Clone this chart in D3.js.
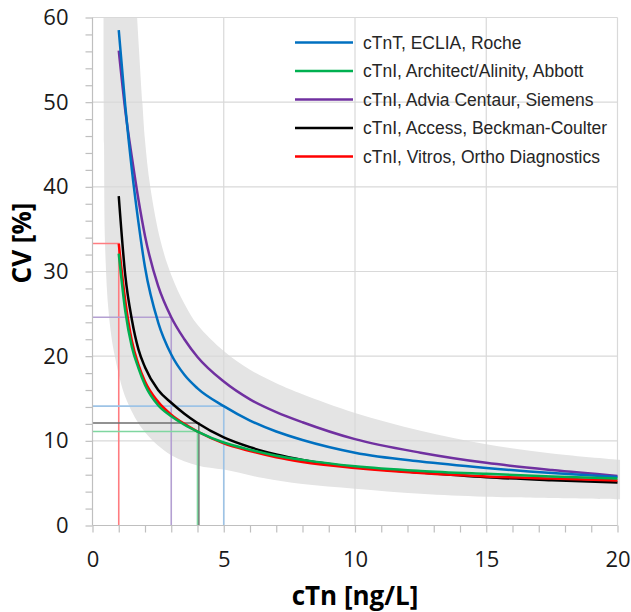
<!DOCTYPE html>
<html>
<head>
<meta charset="utf-8">
<script src="https://cdn.jsdelivr.net/npm/d3@7"></script>
<style>
  body { margin: 0; background: #fff; }
  svg { display: block; }
  .tick-lbl text { font-family: "Open Sans", sans-serif; font-size: 22px; fill: #1a1a1a; }
  .legend text { font-family: "Liberation Sans", Arial, sans-serif; font-size: 17.5px; fill: #262626; }
  .title { font-family: "Open Sans", sans-serif; font-size: 26px; font-weight: bold; fill: #000; }
</style>
</head>
<body>
<svg id="chart" width="631" height="612"></svg>
<script>
var WIDTH = 631, HEIGHT = 612;

// ticks
var xTicks = [0, 5, 10, 15, 20];
var yTicks = [0, 10, 20, 30, 40, 50, 60];

// series: x = cTn [ng/L], values = CV [%]
var xs = [1, 1.25, 1.5, 1.75, 2, 2.5, 3, 3.5, 4, 5, 6, 7, 8, 10, 12.5, 15, 17.5, 20];
var cvRoche   = [58.5, 49.5, 42, 35.8, 30.5, 24, 20.2, 17.8, 16.2, 14.1, 12.4, 11.1, 10.1, 8.6, 7.55, 6.8, 6.2, 5.72];
var cvAbbott  = [32.1, 25.3, 21.1, 18.6, 16.6, 14.2, 12.9, 11.9, 11.1, 9.8, 8.95, 8.25, 7.75, 7.0, 6.45, 6.1, 5.8, 5.55];
var cvSiemens = [56.1, 49, 43.5, 38.5, 34.2, 28.3, 24.6, 22, 19.9, 17.0, 14.9, 13.4, 12.2, 10.2, 8.6, 7.4, 6.55, 5.86];
var cvBeckman = [38.9, 29.5, 24.3, 20.8, 18.7, 16.0, 14.5, 13.2, 12.1, 10.4, 9.25, 8.4, 7.75, 6.9, 6.25, 5.7, 5.35, 5.08];
var cvOrtho   = [33.3, 26.5, 21.8, 19.0, 17, 14.6, 13.1, 12.0, 11.1, 9.7, 8.8, 8.05, 7.5, 6.8, 6.2, 5.8, 5.55, 5.31];

var seriesNames = [
    "cTnT, ECLIA, Roche",
    "cTnI, Architect/Alinity, Abbott",
    "cTnI, Advia Centaur, Siemens",
    "cTnI, Access, Beckman-Coulter",
    "cTnI, Vitros, Ortho Diagnostics"
];
var seriesColors = ["#0070c0", "#00b050", "#7030a0", "#000000", "#ff0000"];
var seriesValues = [cvRoche, cvAbbott, cvSiemens, cvBeckman, cvOrtho];

// grey envelope
var bandUpperX  = [1.7, 1.9, 2.0, 2.2, 2.6, 3.0, 3.5, 4, 5, 6, 7, 8, 10, 12.5, 15, 17.5, 20.1];
var bandUpperCV = [60, 50, 45.5, 40, 33.5, 29.6, 26.2, 23.7, 20.6, 18.4, 16.8, 15.5, 13.3, 11.2, 9.6, 8.5, 7.75];
var bandLowerX  = [0.42, 0.44, 0.48, 0.62, 0.85, 1.3, 2.0, 3.0, 4.0, 5.0, 6.5, 8, 10, 12.5, 15, 20.1];
var bandLowerCV = [60, 45, 33, 25, 20, 14.8, 11, 8.3, 7.1, 6.6, 5.6, 4.9, 4.35, 3.75, 3.4, 3.1];

// reference drop lines (cTn, CV)
var refX      = [1, 3, 5, 4.05, 4];
var refCV     = [33.3, 24.6, 14.1, 12.1, 11.1];
var refColors = ["#ff7c80", "#b4a0d2", "#9dc3e6", "#6f6f6f", "#7fd6a0"];

var svg = d3.select("#chart");

var x = d3.scaleLinear().domain([0, 20]).range([92.5, 617.5]);
var y = d3.scaleLinear().domain([0, 60]).range([525.5, 17.5]);

svg.append("clipPath").attr("id", "plotclip")
    .append("rect")
    .attr("x", x(0)).attr("y", y(60))
    .attr("width", x(20) - x(0) + 3).attr("height", y(0) - y(60));

// band
var edge = d3.line().x(function (d) { return x(d[0]); }).y(function (d) { return y(d[1]); })
    .curve(d3.curveCatmullRom.alpha(0.5));
var upperPts = bandUpperX.map(function (v, i) { return [v, bandUpperCV[i]]; });
var lowerPts = bandLowerX.map(function (v, i) { return [v, bandLowerCV[i]]; }).reverse();
var bandPath = edge(upperPts) + "L" + edge(lowerPts).slice(1) + "Z";

svg.append("path")
    .attr("d", bandPath)
    .attr("clip-path", "url(#plotclip)")
    .style("fill", "#e4e4e4");

// grid
svg.append("g").selectAll("line").data(yTicks.slice(1)).enter().append("line")
    .attr("x1", x(0)).attr("x2", x(20))
    .attr("y1", function (d) { return y(d); }).attr("y2", function (d) { return y(d); })
    .style("stroke", "#d9d9d9").style("stroke-width", 1.2);

svg.append("g").selectAll("line").data(xTicks.slice(1)).enter().append("line")
    .attr("y1", y(0)).attr("y2", y(60))
    .attr("x1", function (d) { return x(d); }).attr("x2", function (d) { return x(d); })
    .style("stroke", "#d9d9d9").style("stroke-width", 1.2);

// reference lines
var refs = svg.append("g");
refX.forEach(function (rx, i) {
    refs.append("polyline")
        .attr("points", [[x(0), y(refCV[i])], [x(rx), y(refCV[i])], [x(rx), y(0)]].join(" "))
        .style("fill", "none")
        .style("stroke", refColors[i])
        .style("stroke-width", 1.6);
});

// axes
var yAxis = d3.axisLeft(y)
    .tickValues(d3.range(0, 61, 2))
    .tickSize(7).tickPadding(17)
    .tickFormat(function (d) { return yTicks.indexOf(d) >= 0 ? d : ""; });
var xAxis = d3.axisBottom(x)
    .tickValues(d3.range(0, 21, 1))
    .tickSize(7).tickPadding(19)
    .tickFormat(function (d) { return xTicks.indexOf(d) >= 0 ? d : ""; });

svg.append("g").attr("class", "tick-lbl y").attr("transform", "translate(" + x(0) + ",0)").call(yAxis);
svg.append("g").attr("class", "tick-lbl x").attr("transform", "translate(0," + y(0) + ")").call(xAxis);
svg.selectAll(".tick-lbl .domain").style("stroke", "#bfbfbf").style("stroke-width", 1.2);
svg.selectAll(".tick-lbl .tick line").style("stroke", "#bfbfbf").style("stroke-width", 1.2);
svg.select(".tick-lbl.y path.domain").attr("d", "M0," + y(60) + "V" + y(0));
svg.select(".tick-lbl.x path.domain").attr("d", "M" + x(0) + ",0H" + x(20));

// curves
var line = d3.line()
    .x(function (d) { return x(d[0]); })
    .y(function (d) { return y(d[1]); })
    .curve(d3.curveMonotoneX);

var drawOrder = [2, 0, 3, 4, 1];
drawOrder.forEach(function (k) {
    svg.append("path")
        .datum(xs.map(function (v, i) { return [v, seriesValues[k][i]]; }))
        .attr("d", line)
        .style("fill", "none")
        .style("stroke", seriesColors[k])
        .style("stroke-width", 2.5);
});

// legend
var legend = svg.append("g").attr("class", "legend");
seriesNames.forEach(function (name, i) {
    var ly = 42.5 + i * 28.5;
    legend.append("line")
        .attr("x1", 295).attr("x2", 353).attr("y1", ly).attr("y2", ly)
        .style("stroke", seriesColors[i]).style("stroke-width", 2.5);
    legend.append("text")
        .attr("x", 363).attr("y", ly).attr("dy", "0.35em")
        .text(name);
});

// titles
svg.append("text").attr("class", "title")
    .attr("x", (x(0) + x(20)) / 2).attr("y", 605)
    .attr("text-anchor", "middle")
    .text("cTn [ng/L]");

svg.append("text").attr("class", "title")
    .attr("transform", "translate(31,243) rotate(-90)")
    .attr("text-anchor", "middle")
    .text("CV [%]");
</script>
</body>
</html>
